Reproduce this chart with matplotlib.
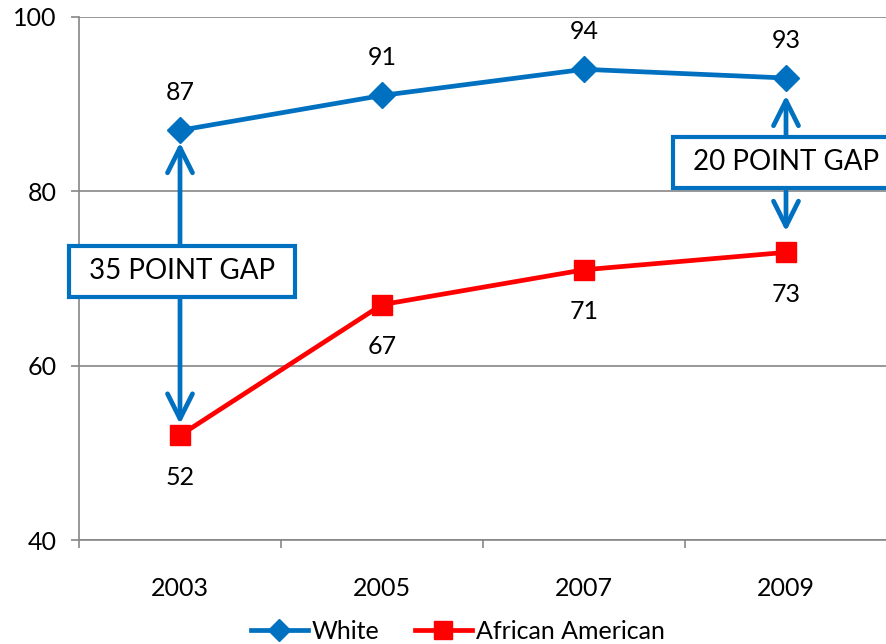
import matplotlib
matplotlib.use("Agg")
import matplotlib.pyplot as plt

plt.rcParams['font.family'] = ['Lato', 'DejaVu Sans']

years = ['2003', '2005', '2007', '2009']
white = [87, 91, 94, 93]
african_american = [52, 67, 71, 73]

BLUE = '#0070C0'
RED = '#FF0000'
GRAY = '#868686'

fig = plt.figure(figsize=(8.87, 6.44), dpi=100)
ax = fig.add_axes([79 / 887, 104 / 644, 808 / 887, 523 / 644])

x = list(range(len(years)))
ax.plot(x, white, color=BLUE, lw=3.4, marker='D', markersize=13, label='White', clip_on=False, zorder=4)
ax.plot(x, african_american, color=RED, lw=3.4, marker='s', markersize=15, label='African American',
        clip_on=False, zorder=4)

# data labels
for i, v in enumerate(white):
    ax.annotate(str(v), (i, v), xytext=(0, 19), textcoords='offset points', ha='center', va='bottom', fontsize=18)
for i, v in enumerate(african_american):
    ax.annotate(str(v), (i, v), xytext=(0, -22), textcoords='offset points', ha='center', va='top', fontsize=18)

# gap arrows + boxes
arrow = dict(arrowstyle='->,head_length=0.9,head_width=0.45', color=BLUE, lw=3.4, mutation_scale=20,
             shrinkA=0, shrinkB=0)
ax.annotate('', xy=(0, 85.6), xytext=(0, 74), arrowprops=arrow, zorder=3)
ax.annotate('', xy=(0, 53.3), xytext=(0, 68), arrowprops=arrow, zorder=3)
ax.annotate('', xy=(3, 91.0), xytext=(3, 86), arrowprops=arrow, zorder=3)
ax.annotate('', xy=(3, 75.4), xytext=(3, 80), arrowprops=arrow, zorder=3)

box = dict(boxstyle='square,pad=0.45', fc='white', ec=BLUE, lw=3)
ax.text(0.01, 70.85, ' 35 POINT GAP ', ha='center', va='center', fontsize=20, bbox=box, zorder=5)
ax.text(3.0, 83.35, ' 20 POINT GAP ', ha='center', va='center', fontsize=20, bbox=box, zorder=5,
        clip_on=False)

ax.set_xlim(-0.5, 3.5)
ax.set_ylim(40, 100)
ax.set_yticks([40, 60, 80, 100])
ax.set_xticks(x)
ax.set_xticklabels(years)
ax.set_xticks([-0.5, 0.5, 1.5, 2.5, 3.5], minor=True)
ax.tick_params(axis='x', which='major', length=0, pad=27, labelsize=18)
ax.tick_params(axis='x', which='minor', length=6, width=1.2, color=GRAY)
ax.tick_params(axis='y', length=6, width=1.2, color=GRAY, pad=10, labelsize=18)

ax.grid(axis='y', color=GRAY, lw=1.2)
ax.set_axisbelow(True)
for s in ['top', 'right']:
    ax.spines[s].set_visible(False)
for s in ['left', 'bottom']:
    ax.spines[s].set_color(GRAY)
    ax.spines[s].set_linewidth(1.2)

fig.legend(loc='center', bbox_to_anchor=(0.516, 0.02), ncol=2, frameon=False, fontsize=18,
           handlelength=2.3, columnspacing=1.4, handletextpad=0.15, markerscale=0.85)

fig.savefig('out.png', dpi=100)
